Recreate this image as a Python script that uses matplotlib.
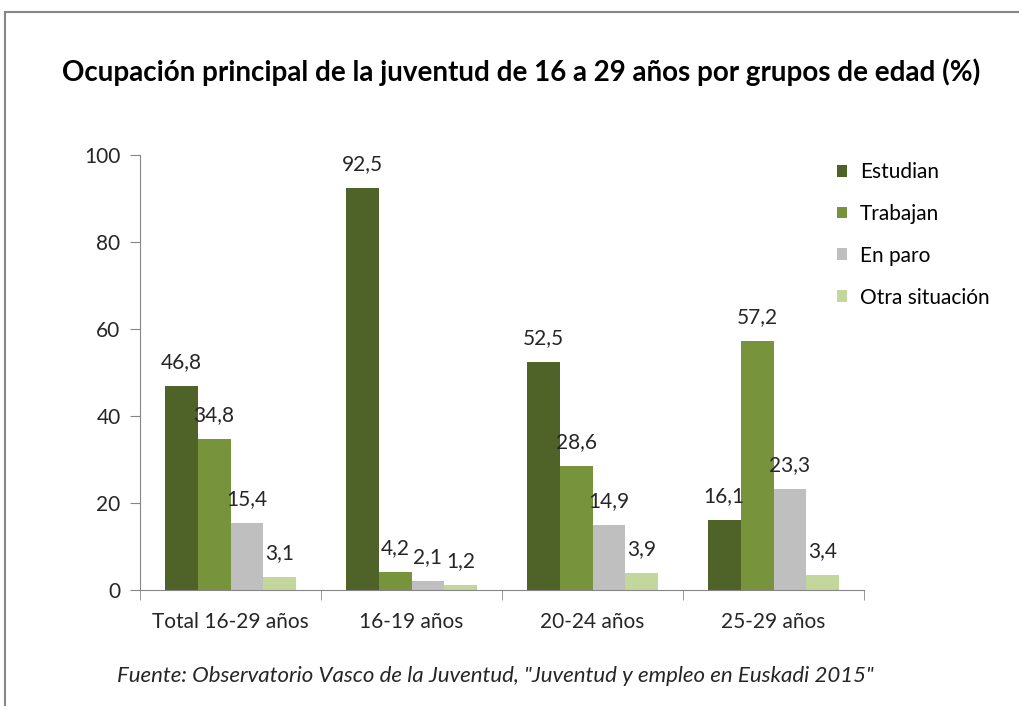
import matplotlib.pyplot as plt
from matplotlib.lines import Line2D
import numpy as np

plt.rcParams['font.family'] = ['Lato', 'DejaVu Sans']

categories = ['Total 16-29 años', '16-19 años', '20-24 años', '25-29 años']
series = ['Estudian', 'Trabajan', 'En paro', 'Otra situación']
estudian = [46.8, 92.5, 52.5, 16.1]
trabajan = [34.8, 4.2, 28.6, 57.2]
en_paro = [15.4, 2.1, 14.9, 23.3]
otra = [3.1, 1.2, 3.9, 3.4]
colors = ['#4F6228', '#77933C', '#BFBFBF', '#C3D69B']

fig = plt.figure(figsize=(10.19, 7.06), dpi=100)
ax = fig.add_axes([140 / 1019, 1 - 590 / 706, (864 - 140) / 1019, (590 - 155) / 706])

x = np.arange(len(categories))
w = 0.182
for i, (name, vals) in enumerate(zip(series, [estudian, trabajan, en_paro, otra])):
    pos = x + (i - 1.5) * w
    ax.bar(pos, vals, width=w, color=colors[i], label=name)
    for p, v in zip(pos, vals):
        ax.annotate(f'{v:.1f}'.replace('.', ','), (p, v), xytext=(0, 10),
                    textcoords='offset points', ha='center', va='bottom',
                    fontsize=15, color='#262626')

ax.set_ylim(0, 100)
ax.set_xlim(-0.5, 3.5)
ax.set_yticks([0, 20, 40, 60, 80, 100])
ax.set_xticks(x)
ax.set_xticklabels(categories)
ax.set_xticks(np.arange(-0.5, 4, 1), minor=True)
ax.tick_params(axis='x', which='major', length=0, pad=16, labelsize=15, labelcolor='#262626')
ax.tick_params(axis='x', which='minor', length=7, color='#868686')
ax.tick_params(axis='y', length=7, color='#868686', labelsize=15, labelcolor='#262626', pad=7)
for s in ['top', 'right']:
    ax.spines[s].set_visible(False)
for s in ['left', 'bottom']:
    ax.spines[s].set_color('#868686')

ax.legend(loc='upper left', bbox_to_anchor=(837 / 1019, 1 - 162 / 706),
          bbox_transform=fig.transFigure, frameon=False, fontsize=15,
          handlelength=0.5, handleheight=0.5, handletextpad=0.6, labelspacing=1.05,
          borderaxespad=0, borderpad=0)

fig.text(521 / 1019, 1 - 72 / 706,
         'Ocupación principal de la juventud de 16 a 29 años por grupos de edad (%)',
         ha='center', va='center', fontsize=20, fontweight='bold', color='black')
fig.text(495 / 1019, 1 - 676 / 706,
         'Fuente: Observatorio Vasco de la Juventud, "Juventud y empleo en Euskadi 2015"',
         ha='center', va='center', fontsize=16, style='italic', color='#262626')

fig.add_artist(Line2D([5 / 1019, 1], [1 - 12 / 706] * 2, transform=fig.transFigure,
                      color='#868686', lw=1.5))
fig.add_artist(Line2D([5 / 1019] * 2, [0, 1 - 12 / 706], transform=fig.transFigure,
                      color='#868686', lw=1.5))

fig.savefig('out.png', dpi=100)
